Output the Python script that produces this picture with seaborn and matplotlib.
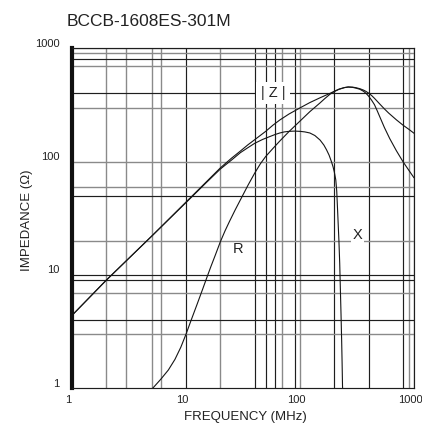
import matplotlib
matplotlib.use("Agg")
import matplotlib.pyplot as plt
import matplotlib.transforms as mtransforms
import pandas as pd
import seaborn as sns


TITLE = "BCCB-1608ES-301M"
X_LABEL = "FREQUENCY (MHz)"
Y_LABEL = "IMPEDANCE (Ω)"

# |Z| curve (MHz, ohm)
Z_FREQ = [1, 2, 5, 10, 15, 20, 25, 30, 35, 40, 50, 58, 66.5, 80, 100, 122, 150, 183,
          200, 220, 245, 265, 290, 310, 335, 360, 380, 400, 425, 450, 500, 550, 600,
          700, 800, 900, 1000]
Z_IMP = [4.4, 9.0, 22, 44, 66, 88, 107, 124, 141, 156, 185, 210, 233, 263, 298, 332, 366,
         400, 418, 436, 450, 456, 454, 449, 440, 428, 416, 402, 383, 362, 323, 292, 268,
         234, 210, 193, 178]

# R curve
R_FREQ = [4.8, 5.1, 6, 7, 8, 9, 10, 11, 12.5, 14, 15.3, 16.5, 18, 20, 22, 24, 27, 30,
          35, 40, 45, 50, 58, 66.5, 80, 100, 122, 150, 165, 183, 200, 220, 245, 265,
          290, 310, 335, 360, 380, 400, 425, 450, 475, 500, 550, 612, 700, 800, 900, 1000]
R_IMP = [0.93, 1.0, 1.2, 1.45, 1.8, 2.3, 3.0, 3.9, 5.5, 7.5, 9.6, 11.8, 14.8, 19.6, 24.5,
         29.5, 37.5, 46, 62, 79, 96, 111, 131, 152, 184, 228, 276, 330, 360, 393, 415, 435,
         450, 455, 452, 445, 435, 418, 400, 378, 348, 318, 282, 250, 200, 160, 125, 100,
         84, 72]

# X curve
X_FREQ = [1, 2, 5, 10, 15, 20, 25, 30, 35, 40, 47, 54, 60, 66.5, 73, 80, 90, 100, 110,
          122, 135, 150, 162, 171, 180, 188, 195, 200, 206, 210, 214, 217, 219.5, 223,
          226, 229, 232, 234, 236, 238]
X_IMP = [4.4, 9.0, 22, 43.5, 65, 86, 103, 120, 133, 145, 157, 166, 173, 179, 183, 185,
         186, 185, 183, 179, 170, 155, 140, 127, 114, 101, 90, 81, 69, 55, 36, 26, 20,
         12.7, 7.5, 4.5, 2.6, 1.7, 1.05, 0.85]

MAJOR_TICKS = [1, 10, 100, 1000]
TICK_LABELS = ["1", "10", "100", "1000"]

# the printed grid is irregular, some lines dark and some grey
GRID_X_DARK = [10, 40, 50, 60, 90, 200, 400, 800, 1000]
GRID_X_GRAY = [2, 3, 5, 6, 20, 70, 100, 900]
GRID_Y_DARK = [4, 9, 10, 50, 400, 800, 1000]
GRID_Y_GRAY = [3, 7, 20, 60, 100, 300, 700, 900]

DARK = "#1e1e1e"
GRAY = "#8a8a8a"
TEXT = "#222222"


def _curves() -> pd.DataFrame:
    parts = [
        pd.DataFrame({"freq": Z_FREQ, "imp": Z_IMP, "curve": "|Z|"}),
        pd.DataFrame({"freq": R_FREQ, "imp": R_IMP, "curve": "R"}),
        pd.DataFrame({"freq": X_FREQ, "imp": X_IMP, "curve": "X"}),
    ]
    return pd.concat(parts, ignore_index=True)


def main():
    sns.set_theme(style="white")
    plt.rcParams["font.family"] = ["Liberation Sans", "DejaVu Sans"]

    fig = plt.figure(figsize=(4.22, 4.29), dpi=100)
    ax = fig.add_axes([72 / 422, 40.7 / 429, 342 / 422, 340 / 429])
    ax.set_xscale("log")
    ax.set_yscale("log")

    for v in GRID_X_GRAY:
        ax.axvline(v, color=GRAY, lw=1.0, zorder=1)
    for v in GRID_X_DARK:
        ax.axvline(v, color=DARK, lw=0.85, zorder=1)
    for v in GRID_Y_GRAY:
        ax.axhline(v, color=GRAY, lw=1.0, zorder=1)
    for v in GRID_Y_DARK:
        ax.axhline(v, color=DARK, lw=0.85, zorder=1)

    sns.lineplot(data=_curves(), x="freq", y="imp", units="curve", estimator=None,
                 color="#151515", lw=0.8, ax=ax, zorder=4)

    ax.set_xlim(1, 1000)
    ax.set_ylim(1, 1000)
    ax.set_xticks(MAJOR_TICKS, TICK_LABELS)
    ax.set_yticks(MAJOR_TICKS, TICK_LABELS)
    ax.set_xticks([], minor=True)
    ax.set_yticks([], minor=True)
    ax.tick_params(axis="both", length=0, labelsize=8, labelcolor=TEXT)
    ax.tick_params(axis="x", pad=4.8)
    ax.tick_params(axis="y", pad=9)

    for side, sp in ax.spines.items():
        sp.set_color(DARK)
        sp.set_linewidth(0.85)
        sp.set_zorder(5)
    ax.spines["left"].set_linewidth(3.0)
    ax.spines["left"].set_color("#111111")

    ax.set_xlabel(X_LABEL, fontsize=9.5, color=TEXT)
    ax.set_ylabel(Y_LABEL, fontsize=9.5, color=TEXT)
    ax.xaxis.set_label_coords(0.506, -0.066)
    ax.yaxis.set_label_coords(-0.114, 0.495)

    # curve labels
    ax.text(58, 404, "| Z |", fontsize=10.5, ha="center", va="center", color=TEXT,
            bbox=dict(facecolor="white", edgecolor="none", pad=3.2), zorder=3)
    ax.text(321, 22.5, "X", fontsize=10.5, ha="center", va="center", color=TEXT,
            bbox=dict(facecolor="white", edgecolor="none", pad=1.0), zorder=3)
    ax.text(28.5, 17, "R", fontsize=10.5, ha="center", va="center", color=TEXT, zorder=3)

    fig.text(67 / 422, 1 - 22 / 429, TITLE, fontsize=12.5, ha="left", va="center", color=TEXT)

    for lbl in ax.get_yticklabels():
        lbl.set_transform(lbl.get_transform()
                          + mtransforms.ScaledTranslation(0, 5.7 / 100, fig.dpi_scale_trans))
    for lbl in ax.get_xticklabels():
        lbl.set_transform(lbl.get_transform()
                          + mtransforms.ScaledTranslation(-3.5 / 100, 0, fig.dpi_scale_trans))

    fig.savefig("out.png", dpi=100)
    plt.close(fig)


if __name__ == "__main__":
    main()
